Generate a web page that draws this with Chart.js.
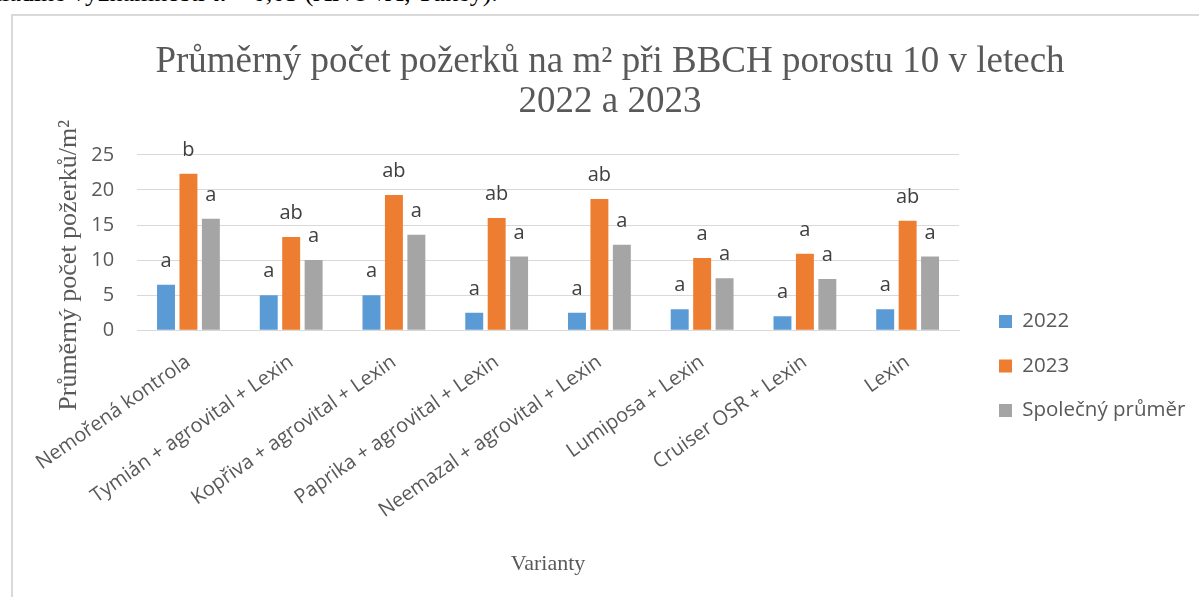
<!DOCTYPE html>
<html>
<head>
<meta charset="utf-8">
<script src="https://cdn.jsdelivr.net/npm/chart.js@4/dist/chart.umd.min.js"></script>
<style>
    html, body { margin: 0; padding: 0; background: #ffffff; overflow: hidden; }
    body { width: 1199px; height: 597px; position: relative; }
    .doc-line {
        position: absolute; left: -11px; top: -22px;
        font-family: "Liberation Serif", serif; font-size: 26px; line-height: 30px; color: #000;
        white-space: nowrap;
    }
    .chart-box {
        position: absolute; left: 11px; top: 14px;
        width: 1200px; height: 600px;
        border: 2px solid #d9d9d9; box-sizing: border-box;
    }
</style>
</head>
<body>
<div class="doc-line">hladině významnosti α = 0,05 (ANOVA; Tukey).</div>
<div class="chart-box"><canvas id="chart"></canvas></div>
<script>
// Data
const varianty = [
    "Nemořená kontrola",
    "Tymián + agrovital + Lexin",
    "Kopřiva + agrovital + Lexin",
    "Paprika + agrovital + Lexin",
    "Neemazal + agrovital + Lexin",
    "Lumiposa + Lexin",
    "Cruiser OSR + Lexin",
    "Lexin"
];
const values2022 = [6.5, 5, 5, 2.5, 2.5, 3, 2, 3];
const values2023 = [22.3, 13.3, 19.3, 16, 18.7, 10.3, 10.9, 15.6];
const valuesMean = [15.9, 10, 13.6, 10.5, 12.2, 7.4, 7.3, 10.5];

// Tukey letters shown above each bar
const letters2022 = ["a", "a", "a", "a", "a", "a", "a", "a"];
const letters2023 = ["b", "ab", "ab", "ab", "ab", "a", "a", "ab"];
const lettersMean = ["a", "a", "a", "a", "a", "a", "a", "a"];

const yTicks = [0, 5, 10, 15, 20, 25];

const textGray = "#595959";
const sansFont = "'Open Sans', sans-serif";
const serifFont = "'Liberation Serif', 'Times New Roman', serif";

// Draws the significance letters above the bars
const letterPlugin = {
    id: "letters",
    afterDatasetsDraw(chart) {
        const ctx = chart.ctx;
        ctx.save();
        ctx.font = "20px " + sansFont;
        ctx.fillStyle = "#404040";
        ctx.textAlign = "center";
        ctx.textBaseline = "alphabetic";
        chart.data.datasets.forEach((ds, i) => {
            const meta = chart.getDatasetMeta(i);
            meta.data.forEach((bar, j) => {
                ctx.fillText(ds.letters[j], bar.x, bar.y - 18);
            });
        });
        ctx.restore();
    }
};

// Excel keeps the legend lower than Chart.js would, move it after layout
const legendPlace = {
    id: "legendPlace",
    afterLayout(chart) {
        const lg = chart.legend;
        if (!lg) return;
        const dy = 350 - (lg.top + lg.bottom) / 2;
        lg.top += dy;
        lg.bottom += dy;
        const dx = 962 - lg.left;
        lg.left += dx;
        lg.right += dx;
    }
};

new Chart(document.getElementById("chart"), {
    type: "bar",
    data: {
        labels: varianty,
        datasets: [
            { label: "2022", data: values2022, letters: letters2022, backgroundColor: "#5b9bd5" },
            { label: "2023", data: values2023, letters: letters2023, backgroundColor: "#ed7d31" },
            { label: "Společný průměr", data: valuesMean, letters: lettersMean, backgroundColor: "#a5a5a5" }
        ]
    },
    options: {
        responsive: true,
        maintainAspectRatio: false,
        animation: false,
        categoryPercentage: 0.655,
        barPercentage: 0.8,
        layout: { padding: { left: 37, right: 39, top: 0, bottom: 31 } },
        plugins: {
            title: {
                display: true,
                text: ["Průměrný počet požerků na m² při BBCH porostu 10 v letech", "2022 a 2023"],
                color: textGray,
                font: { family: serifFont, size: 37, weight: "normal", lineHeight: 1.08 },
                padding: { top: 26, bottom: 33 }
            },
            legend: {
                position: "right",
                maxWidth: 211,
                labels: {
                    color: textGray,
                    font: { family: sansFont, size: 20.5 },
                    boxWidth: 13,
                    boxHeight: 13,
                    padding: 24
                }
            },
            tooltip: { enabled: false }
        },
        scales: {
            x: {
                grid: { display: false },
                border: { color: "#d9d9d9", width: 1 },
                afterFit(scale) {
                    // let the long rotated labels hang out to the left like in Excel
                    scale.paddingLeft = 0;
                    scale.paddingRight = 0;
                },
                ticks: {
                    color: textGray,
                    font: { family: sansFont, size: 20 },
                    minRotation: 35,
                    maxRotation: 35,
                    padding: 12,
                    autoSkip: false
                },
                title: {
                    display: true,
                    text: "Varianty",
                    color: textGray,
                    font: { family: serifFont, size: 22 },
                    padding: { top: 16, bottom: 4 }
                }
            },
            y: {
                min: 0,
                max: 25,
                afterBuildTicks(axis) {
                    axis.ticks = yTicks.map(v => ({ value: v }));
                },
                afterFit(scale) {
                    // tick padding is counted twice in the width, drop one
                    scale.width -= scale.options.ticks.padding;
                },
                grid: { color: "#d9d9d9", lineWidth: 1, drawTicks: false },
                border: { display: false },
                ticks: {
                    color: textGray,
                    font: { family: sansFont, size: 20 },
                    padding: 23
                },
                title: {
                    display: true,
                    text: "Průměrný počet požerků/m²       ",
                    color: textGray,
                    font: { family: serifFont, size: 26 },
                    padding: { top: 4, bottom: 6 }
                }
            }
        }
    },
    plugins: [letterPlugin, legendPlace]
});
</script>
</body>
</html>
